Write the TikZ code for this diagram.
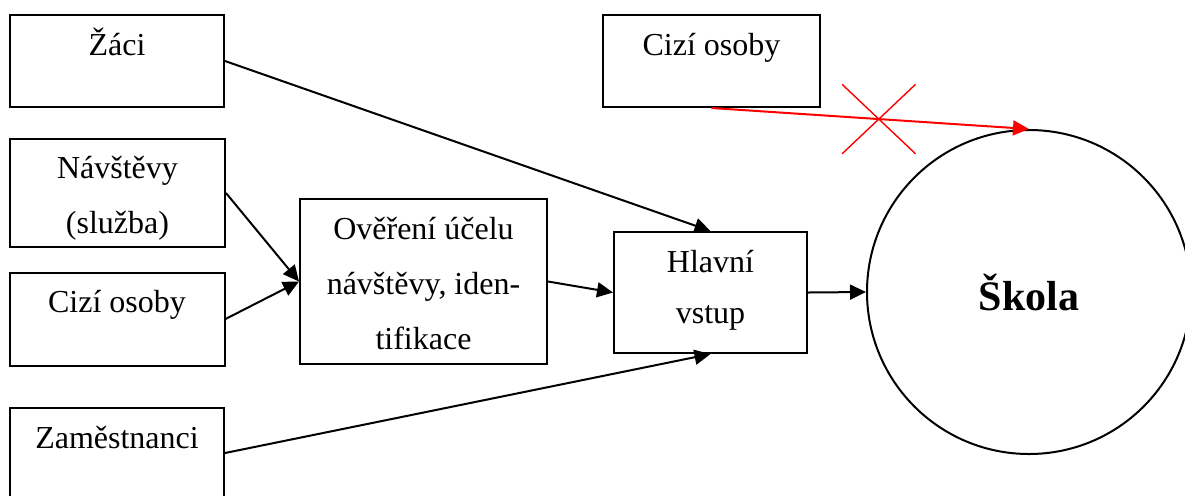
\documentclass[tikz,border=0pt]{standalone}
\usepackage{fontspec}
\setmainfont{Liberation Serif}
\usetikzlibrary{arrows.meta,shapes.misc,shapes.geometric,positioning}

\begin{document}
\begin{tikzpicture}[x=0.5pt, y=-0.5pt, line width=1pt, >={Triangle[length=8pt,width=7.5pt]}]
   \useasboundingbox (0,0) rectangle (1185,495);
   \clip (0,0) rectangle (1185,495);
   % boxes
   \begin{scope}[every node/.style={draw, rectangle, inner sep=0pt}]
    \node (zaci) [minimum width=107pt, minimum height=46pt] at (117,61) {};
    \node (navstevy) [minimum width=107.5pt, minimum height=54pt] at (117.5,193) {};
    \node (cizi) [minimum width=107.5pt, minimum height=46.5pt] at (117,319) {};
    \node (zam) [minimum width=107pt, minimum height=45pt] at (117,453) {};
    \node (overeni) [minimum width=123.5pt, minimum height=82.5pt] at (423.5,281.5) {};
    \node (hlavni) [minimum width=96.5pt, minimum height=60.5pt] at (710.5,292.5) {};
    \node (cizih) [minimum width=108.5pt, minimum height=46pt] at (711.5,61) {};
    \node (skola) [circle, minimum size=162pt, font=\bfseries\fontsize{21}{25}\selectfont] at (1029,292) {Škola};
   \end{scope}
   % texts (base = last line)
   \begin{scope}[every node/.style={align=center, inner sep=0pt, anchor=base, font=\fontsize{16}{27.5}\selectfont}]
    \node (zacit) at (117,55) {Žáci};
    \node (navstevyt) at (117.5,233) {Návštěvy\\(služba)};
    \node (cizit) at (117,312) {Cizí osoby};
    \node (zamt) at (117,448) {Zaměstnanci};
    \node (overenit) at (423.5,349) {Ověření účelu\\návštěvy, iden-\\tifikace};
    \node (hlavnit) [font=\fontsize{16}{25.5}\selectfont] at (710.5,323) {Hlavní\\vstup};
    \node (ciziht) at (711.5,55) {Cizí osoby};
   \end{scope}
   % connectors
   \begin{scope}[every edge/.style={draw=black, line width=1pt, ->}]
    \draw (zaci.east) edge (hlavni.north);
    \draw (navstevy.east) edge (overeni.west);
    \draw (cizi.east) edge (overeni.west);
    \draw (overeni.east) edge (hlavni.west);
    \draw (zam.east) edge (hlavni.south);
    \draw (hlavni.east) edge (skola.west);
   \end{scope}
   \draw [->, red] (cizih.south) -- coordinate[pos=0.527] (stop) (skola.north);
   \node (zakaz) [cross out, draw=red, line width=0.7pt, inner sep=0pt, minimum width=36pt, minimum height=34pt] at (stop) {};
\end{tikzpicture}
\end{document}
